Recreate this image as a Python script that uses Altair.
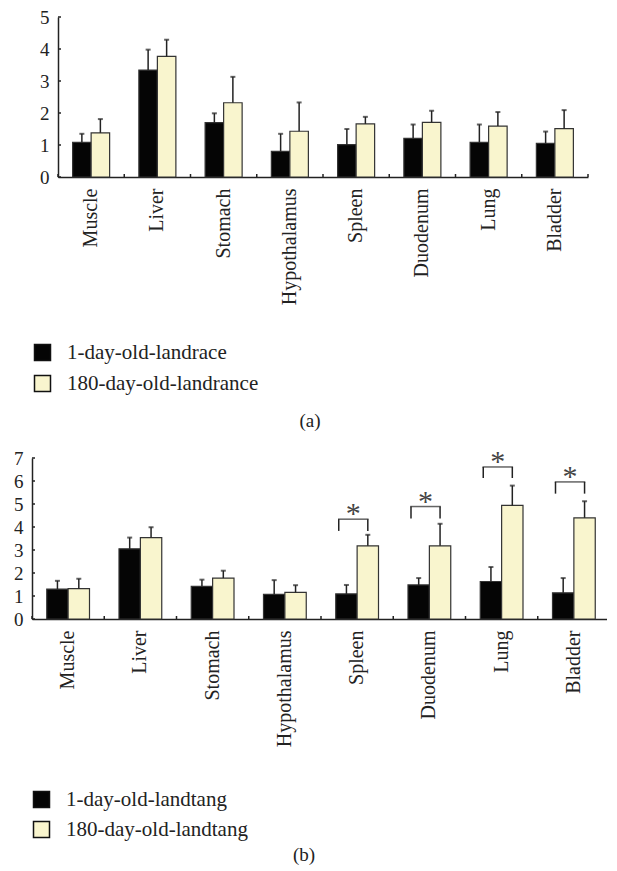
import altair as alt
import pandas as pd

organs = ["Muscle", "Liver", "Stomach", "Hypothalamus", "Spleen", "Duodenum", "Lung", "Bladder"]

# Panel (a)
a_groups = ["1-day-old-landrace", "180-day-old-landrance"]
a_mean_1d = [1.08, 3.34, 1.70, 0.80, 1.01, 1.21, 1.08, 1.05]
a_sd_1d = [0.27, 0.64, 0.29, 0.55, 0.49, 0.43, 0.56, 0.37]
a_mean_180 = [1.38, 3.77, 2.32, 1.43, 1.66, 1.71, 1.59, 1.51]
a_sd_180 = [0.43, 0.52, 0.81, 0.90, 0.22, 0.36, 0.44, 0.58]
a_yticks = [0, 1, 2, 3, 4, 5]

# Panel (b)
b_groups = ["1-day-old-landtang", "180-day-old-landtang"]
b_mean_1d = [1.30, 3.05, 1.42, 1.07, 1.09, 1.48, 1.63, 1.14]
b_sd_1d = [0.36, 0.49, 0.29, 0.62, 0.39, 0.30, 0.63, 0.64]
b_mean_180 = [1.32, 3.54, 1.78, 1.16, 3.18, 3.18, 4.94, 4.40]
b_sd_180 = [0.43, 0.45, 0.32, 0.31, 0.48, 0.96, 0.86, 0.72]
b_yticks = [0, 1, 2, 3, 4, 5, 6, 7]

# significance brackets in panel (b)
sig_organs = ["Spleen", "Duodenum", "Lung", "Bladder"]
sig_top = [4.34, 4.89, 6.61, 5.96]
sig_bottom = [3.83, 4.37, 6.13, 5.45]

FONT = "Liberation Serif"
INK = "#222222"
COLORS = ["#050505", "#F9F5CE"]


def long_df(groups, m1, s1, m2, s2):
    rows = []
    for g, ms, ss in ((groups[0], m1, s1), (groups[1], m2, s2)):
        for o, m, s in zip(organs, ms, ss):
            rows.append({"organ": o, "group": g, "mean": m, "upper": m + s})
    return pd.DataFrame(rows)


def panel(df, groups, yticks, W, H, pad_outer, legend_x, legend_y, row_pad,
          caption, cap_x, cap_y, sig=None):
    xaxis = alt.Axis(title=None, labelAngle=-90, ticks=False, labelPadding=11,
                     labelFont=FONT, labelFontSize=20, labelColor=INK,
                     domainColor=INK, domainWidth=1.5, grid=False)
    yaxis = alt.Axis(title=None, values=yticks, ticks=False, labelPadding=9,
                     labelOverlap=False, labelFont=FONT, labelFontSize=19,
                     labelColor=INK, domainColor=INK, domainWidth=1.5, grid=False)
    xscale = alt.Scale(paddingInner=0, paddingOuter=0)
    yscale = alt.Scale(domain=[yticks[0], yticks[-1]], nice=False)
    xenc = alt.X("organ:N", sort=organs, scale=xscale, axis=xaxis)
    yenc = alt.Y("mean:Q", scale=yscale, axis=yaxis)
    xoff = alt.XOffset("group:N", sort=groups,
                       scale=alt.Scale(domain=groups, paddingOuter=pad_outer, paddingInner=0))
    base = alt.Chart(df)
    bars = base.mark_bar(stroke="#333333", strokeWidth=1.2).encode(
        x=xenc, xOffset=xoff, y=yenc,
        color=alt.Color("group:N", sort=groups,
                        scale=alt.Scale(domain=groups, range=COLORS),
                        legend=alt.Legend(title=None, orient="none", legendX=legend_x,
                                          legendY=legend_y, symbolType="square",
                                          symbolSize=256, symbolStrokeColor="#111111",
                                          symbolStrokeWidth=1.5, labelFont=FONT,
                                          labelFontSize=21, labelColor=INK, labelLimit=0,
                                          labelOffset=14, rowPadding=row_pad)))
    err = base.mark_rule(color=INK, strokeWidth=1.5).encode(
        x=xenc, xOffset=xoff, y=yenc, y2="upper:Q")
    cap = base.mark_tick(color=INK, thickness=2, size=5, orient="horizontal").encode(
        x=xenc, xOffset=xoff, y=alt.Y("upper:Q", scale=yscale, axis=yaxis))
    xt = alt.Chart(pd.DataFrame({"organ": organs})).mark_rule(color=INK, strokeWidth=1.5).encode(
        x=alt.X("organ:N", sort=organs, bandPosition=0, scale=xscale, axis=xaxis),
        y=alt.value(H), y2=alt.value(H - 3))
    xt_end = alt.Chart(pd.DataFrame({"k": [0]})).mark_rule(color=INK, strokeWidth=1.5).encode(
        x=alt.value(W), y=alt.value(H), y2=alt.value(H - 3))
    yt = alt.Chart(pd.DataFrame({"mean": yticks})).mark_rule(color=INK, strokeWidth=1.5).encode(
        y=yenc, x=alt.value(0), x2=alt.value(3))
    capt = alt.Chart(pd.DataFrame({"k": [0]})).mark_text(
        text=caption, font=FONT, fontSize=19, color=INK).encode(
        x=alt.value(cap_x), y=alt.value(cap_y))
    layers = [bars, err, cap, xt, xt_end, yt, capt]
    if sig is not None:
        so, st, sb = sig
        sdf = pd.DataFrame({"organ": so, "mean": st, "upper": sb})
        bar_w = W / len(organs) / (2 + 2 * pad_outer)
        left = -bar_w + 3
        right = bar_w / 2
        leg_l = alt.Chart(sdf).mark_rule(color=INK, strokeWidth=1.5, xOffset=left).encode(
            x=xenc, y=yenc, y2="upper:Q")
        leg_r = alt.Chart(sdf).mark_rule(color=INK, strokeWidth=1.5, xOffset=right).encode(
            x=xenc, y=yenc, y2="upper:Q")
        top_l = alt.Chart(sdf).mark_tick(color=INK, thickness=1.5, size=right - left + 1.5,
                                         xOffset=(left + right) / 2,
                                         orient="horizontal").encode(x=xenc, y=yenc)
        star = alt.Chart(sdf).mark_text(text="*", font=FONT, fontSize=30, color="#444444",
                                        baseline="alphabetic", dy=4,
                                        xOffset=(left + right) / 2).encode(x=xenc, y=yenc)
        layers += [leg_l, leg_r, top_l, star]
    return alt.layer(*layers).properties(width=W, height=H)


df_a = long_df(a_groups, a_mean_1d, a_sd_1d, a_mean_180, a_sd_180)
df_b = long_df(b_groups, b_mean_1d, b_sd_1d, b_mean_180, b_sd_180)

pa = panel(df_a, a_groups, a_yticks, 530, 160, 0.79, 0, 325, 8, "(a)", 252, 404)
pb = panel(df_b, b_groups, b_yticks, 578, 161, 0.69, -1, 331, 7, "(b)", 272, 397,
           sig=(sig_organs, sig_top, sig_bottom))

spacer = alt.Chart(pd.DataFrame({"k": [0]})).mark_rule(color="white").encode(
    x=alt.value(0), y=alt.value(0), y2=alt.value(1)).properties(width=7, height=160)

row_a = alt.hconcat(spacer, pa, spacing=0)

chart = alt.vconcat(row_a, pb, spacing=15).resolve_scale(
    x="independent", y="independent", color="independent", xOffset="independent"
).properties(
    padding={"top": 0, "left": 5, "right": -4, "bottom": 0}
).configure_view(stroke=None).configure_axis(labelOverlap=False)

chart.save("out.html", embed_options={"renderer": "svg", "actions": False})
